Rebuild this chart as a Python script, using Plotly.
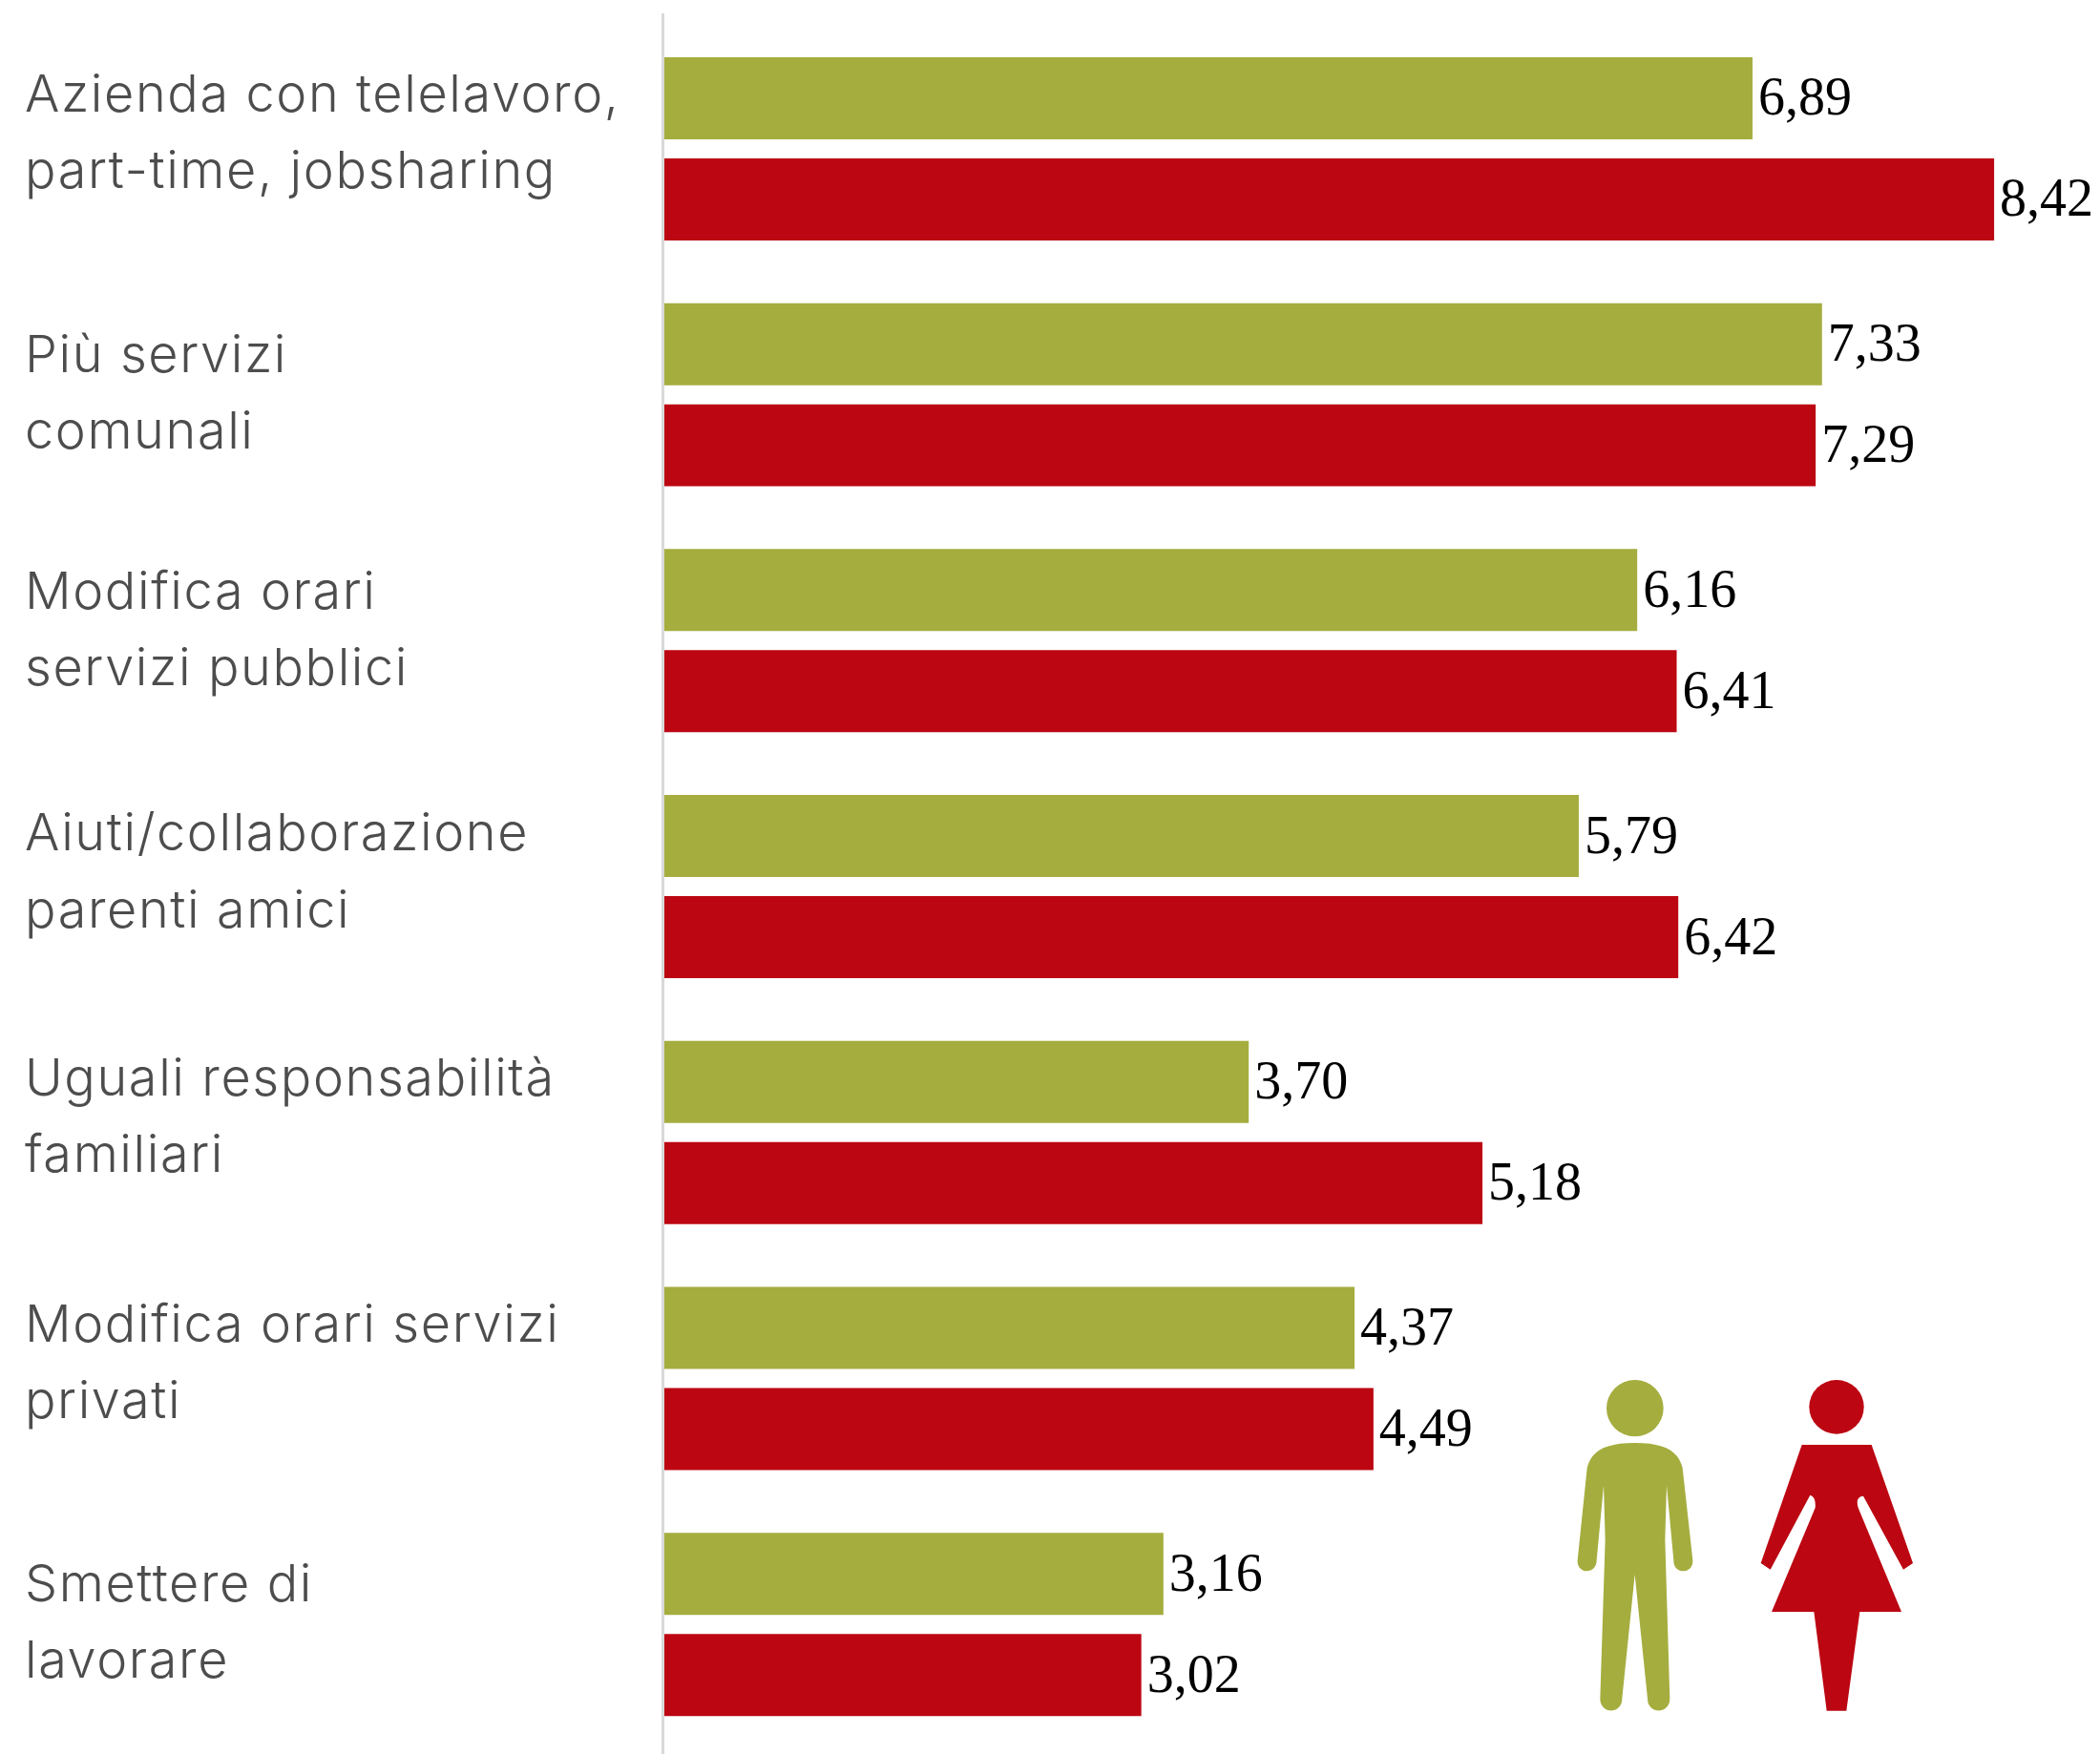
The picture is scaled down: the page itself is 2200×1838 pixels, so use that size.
import plotly.graph_objects as go

W, H = 2200, 1838
categories = ["Azienda con telelavoro, part-time, jobsharing", "Più servizi comunali",
              "Modifica orari servizi pubblici", "Aiuti/collaborazione parenti amici",
              "Uguali responsabilità familiari", "Modifica orari servizi privati",
              "Smettere di lavorare"]
label_lines = [["Azienda con telelavoro,", "part-time, jobsharing"], ["Più servizi", "comunali"],
               ["Modifica orari", "servizi pubblici"], ["Aiuti/collaborazione", "parenti amici"],
               ["Uguali responsabilità", "familiari"], ["Modifica orari servizi", "privati"],
               ["Smettere di", "lavorare"]]
label_y_px = [98, 370, 618, 872, 1128, 1386, 1658]
uomini = [6.89, 7.33, 6.16, 5.79, 3.70, 4.37, 3.16]
donne = [8.42, 7.29, 6.41, 6.42, 5.18, 4.49, 3.02]
GREEN, RED = "#A5AD3E", "#BC0612"
LABEL_FONT = "Inter"
VALUE_FONT = "Liberation Serif"

fmt = lambda v: f"{v:.2f}".replace(".", ",")
fig = go.Figure()
for name, vals, col in [("Uomini", uomini, GREEN), ("Donne", donne, RED)]:
    fig.add_bar(y=categories, x=vals, orientation="h", name=name, marker=dict(color=col, line_width=0),
                text=[fmt(v) for v in vals], textposition="outside", cliponaxis=False,
                constraintext="none", textangle=0,
                textfont=dict(family=VALUE_FONT, size=56, color="#000000"))

px = lambda x: x / W
py = lambda y: 1 - y / H
annots = []
for lines, yc in zip(label_lines, label_y_px):
    for i, t in enumerate(lines):
        annots.append(dict(text=t, xref="paper", yref="paper", x=px(24), y=py(yc + i * 80),
                           xanchor="left", yanchor="middle", showarrow=False,
                           font=dict(family=LABEL_FONT, size=54, color="#4d4d4d", weight=300)))

# icons (decorative), traced in crop coordinates of the reference
zx = lambda X: (1600 + X / 3) / W
zy = lambda Y: 1 - (1400 + Y / 3) / H
def path(cmds):
    out = []
    for c in cmds:
        out.append(c[0] + " ".join(f"{zx(c[i]):.5f},{zy(c[i+1]):.5f}" for i in range(1, len(c), 2)))
    return " ".join(out) + " Z"

man = [("M",338,336),("C",430,336,475,360,488,415),("L",520,705),("C",522,750,458,750,460,705),("L",438,470),
       ("L",433,640),("L",448,1140),("C",448,1190,378,1190,378,1140),("L",338,750),("L",298,1140),
       ("C",298,1190,229,1190,229,1140),("L",245,640),("L",240,470),("L",218,705),("C",218,750,156,750,158,705),
       ("L",188,415),("C",201,360,246,336,338,336)]
woman = [("M",863,342),("L",1082,342),("L",1212,714),("L",1182,734),("L",1056,503),("Q",1030,505,1040,540),
         ("L",1176,867),("L",1045,867),("L",1003,1178),("L",941,1178),("L",901,867),("L",768,867),
         ("L",905,540),("Q",908,505,889,500),("L",764,734),("L",734,714)]
shapes = [
    dict(type="line", xref="paper", yref="paper", x0=px(694.5), x1=px(694.5), y0=py(14), y1=py(1838),
         line=dict(color="#d9d9d9", width=3), layer="above"),
    dict(type="path", xref="paper", yref="paper", path=path(man), fillcolor=GREEN, line_width=0),
    dict(type="path", xref="paper", yref="paper", path=path(woman), fillcolor=RED, line_width=0),
    dict(type="circle", xref="paper", yref="paper", x0=zx(249), x1=zx(428), y0=zy(316), y1=zy(138), fillcolor=GREEN, line_width=0),
    dict(type="circle", xref="paper", yref="paper", x0=zx(886), x1=zx(1058), y0=zy(308), y1=zy(138), fillcolor=RED, line_width=0),
]

fig.update_layout(
    width=W, height=H, margin=dict(l=0, r=0, t=0, b=0), paper_bgcolor="white", plot_bgcolor="white",
    barmode="group", bargap=0.1774, bargroupgap=20 / 106, showlegend=False,
    annotations=annots, shapes=shapes,
    xaxis=dict(domain=[696 / W, 1], range=[0, (W - 696) / 165.45], visible=False),
    yaxis=dict(range=[6.527, -0.605], visible=False, type="category", categoryorder="array", categoryarray=categories),
)
post = """
document.body.style.margin='0';
document.querySelectorAll('.annotation-text').forEach(function(t){
  var b=t.getBBox();
  t.setAttribute('text-anchor','start');
  t.setAttribute('x',b.x);
  t.style.letterSpacing='1.6px';
});
document.querySelectorAll('.bartext').forEach(function(t){t.setAttribute('dx','3');t.setAttribute('dy','-1.5');});
"""
fig.write_html("out.html", config=dict(displayModeBar=False), post_script=post)
